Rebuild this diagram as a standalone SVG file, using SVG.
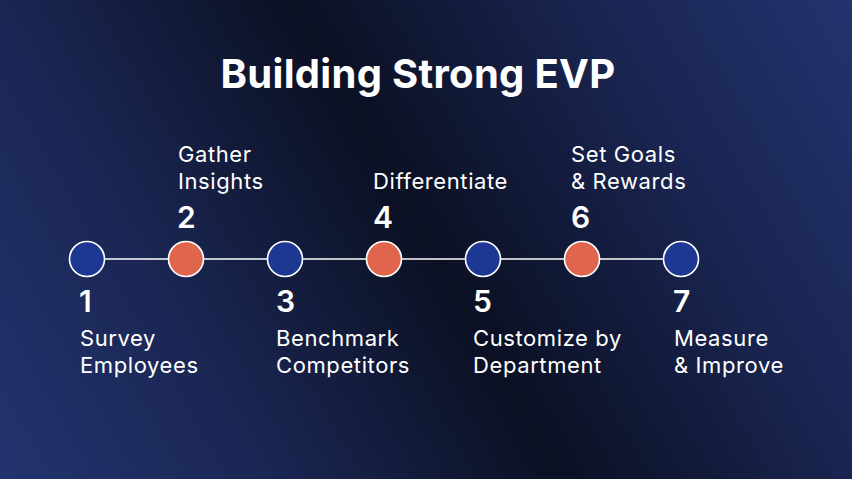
<svg xmlns="http://www.w3.org/2000/svg" width="852" height="479" viewBox="0 0 852 479">
<defs>
<linearGradient id="bg" gradientUnits="userSpaceOnUse" x1="0" y1="479" x2="852" y2="0">
<stop offset="0" stop-color="#22336f"/>
<stop offset="0.25" stop-color="#1a2652"/>
<stop offset="0.5" stop-color="#0b1023"/>
<stop offset="0.75" stop-color="#19244f"/>
<stop offset="1" stop-color="#22336f"/>
</linearGradient>
<style>
.title{font-family:Inter,"Liberation Sans",sans-serif;font-weight:700;font-size:40px;letter-spacing:0.3px;fill:#ffffff}
.num{font-family:Inter,"Liberation Sans",sans-serif;font-weight:600;font-size:30px;fill:#ffffff}
.lbl{font-family:Inter,"Liberation Sans",sans-serif;font-weight:400;font-size:22px;letter-spacing:0.6px;fill:#ffffff}
.blue{fill:#1d3892;stroke:#ffffff;stroke-width:1.6}
.orange{fill:#e0654d;stroke:#ffffff;stroke-width:1.6}
.conn{stroke:#ffffff;stroke-width:1.6;fill:none}
</style>
</defs>
<rect width="852" height="479" fill="url(#bg)"/>
<text class="title" x="418" y="88" text-anchor="middle">Building Strong EVP</text>
<g id="connectors">
<line class="conn" x1="87" y1="259" x2="681" y2="259"/>
</g>
<g id="step1">
<circle class="blue" cx="87" cy="259" r="17.5"/>
<text class="num" x="79" y="312">1</text>
<text class="lbl" x="80" y="346">Survey</text>
<text class="lbl" x="80" y="373">Employees</text>
</g>
<g id="step2">
<circle class="orange" cx="186" cy="259" r="17.5"/>
<text class="lbl" x="178" y="162">Gather</text>
<text class="lbl" x="178" y="189">Insights</text>
<text class="num" x="177" y="228">2</text>
</g>
<g id="step3">
<circle class="blue" cx="285" cy="259" r="17.5"/>
<text class="num" x="276" y="312">3</text>
<text class="lbl" x="276" y="346">Benchmark</text>
<text class="lbl" x="276" y="373">Competitors</text>
</g>
<g id="step4">
<circle class="orange" cx="384" cy="259" r="17.5"/>
<text class="lbl" x="373" y="189">Differentiate</text>
<text class="num" x="373" y="228">4</text>
</g>
<g id="step5">
<circle class="blue" cx="483" cy="259" r="17.5"/>
<text class="num" x="473" y="312">5</text>
<text class="lbl" x="473" y="346">Customize by</text>
<text class="lbl" x="473" y="373">Department</text>
</g>
<g id="step6">
<circle class="orange" cx="582" cy="259" r="17.5"/>
<text class="lbl" x="571" y="162">Set Goals</text>
<text class="lbl" x="571" y="189">&amp; Rewards</text>
<text class="num" x="571" y="228">6</text>
</g>
<g id="step7">
<circle class="blue" cx="681" cy="259" r="17.5"/>
<text class="num" x="673" y="312">7</text>
<text class="lbl" x="674" y="346">Measure</text>
<text class="lbl" x="674" y="373">&amp; Improve</text>
</g>
</svg>
